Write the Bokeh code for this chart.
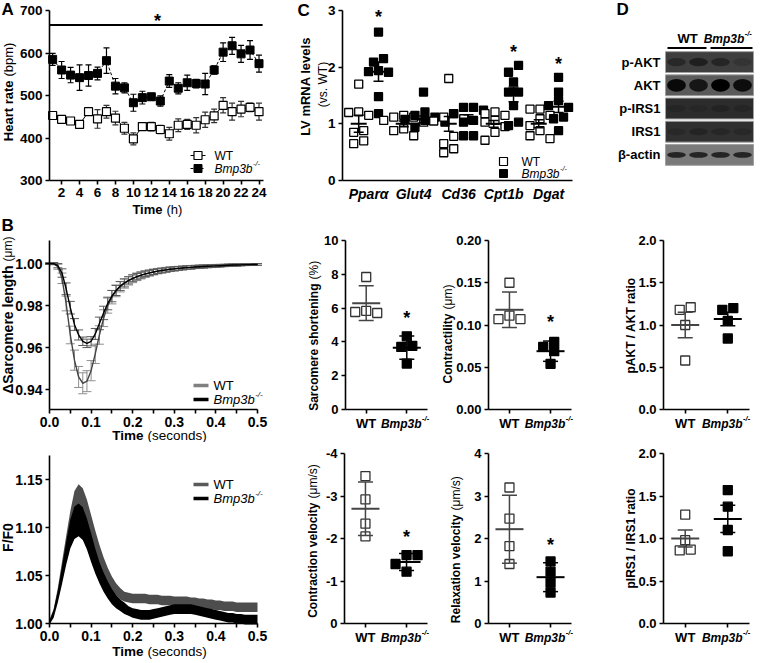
from math import pi
from bokeh.plotting import figure
from bokeh.models import (Label, Range1d, FixedTicker, PrintfTickFormatter,
                          CustomJSTickFormatter, Whisker, TeeHead, ColumnDataSource)
from bokeh.layouts import row, column
from bokeh.embed import file_html
from bokeh.resources import INLINE

FONT = "Liberation Sans"

# ---------------- Panel A: heart rate over 24 h ----------------
HOURS = [1, 2, 3, 4, 5, 6, 7, 8, 9, 10, 11, 12, 13, 14, 15, 16, 17, 18, 19, 20, 21, 22, 23, 24]
HR_WT = [453, 444, 440, 432, 462, 445, 462, 447, 423, 398, 427, 427,
         420, 410, 430, 432, 430, 443, 452, 477, 462, 468, 472, 462]
HR_WT_SEM = [8, 5, 5, 6, 8, 22, 15, 16, 14, 14, 5, 10, 10, 15, 15, 12, 18, 18, 16, 18, 20, 18, 10, 20]
HR_KO = [585, 560, 548, 542, 547, 552, 582, 522, 518, 483, 495, 497,
         487, 534, 517, 530, 528, 527, 560, 602, 617, 598, 607, 575]
HR_KO_SEM = [14, 20, 18, 30, 25, 15, 30, 18, 12, 20, 15, 8, 12, 15, 13, 18, 10, 25, 10, 22, 20, 20, 22, 20]
HOUR_TICKS = [2, 4, 6, 8, 10, 12, 14, 16, 18, 20, 22, 24]
HR_TICKS = [300, 400, 500, 600, 700]
SIG_A_SPAN = [0.7, 24.4]
SIG_A_LEVEL = 666
SIG_A_STAR_HOUR = 12.7

# ---------------- Panel B: sarcomere length and calcium transients ----------------
T_SEC = [0.00, 0.01, 0.02, 0.03, 0.04, 0.05, 0.06, 0.07, 0.08, 0.09,
         0.10, 0.11, 0.12, 0.13, 0.14, 0.15, 0.16, 0.17, 0.18, 0.19,
         0.20, 0.21, 0.22, 0.23, 0.24, 0.25, 0.26, 0.27, 0.28, 0.29,
         0.30, 0.31, 0.32, 0.33, 0.34, 0.35, 0.36, 0.37, 0.38, 0.39,
         0.40, 0.41, 0.42, 0.43, 0.44, 0.45, 0.46, 0.47, 0.48, 0.49, 0.50]
SARC_WT = [1.0000, 1.0000, 0.9985, 0.9930, 0.9810, 0.9660, 0.9540, 0.9460, 0.9430, 0.9440,
           0.9490, 0.9570, 0.9660, 0.9740, 0.9800, 0.9840, 0.9870, 0.9890, 0.9905, 0.9918,
           0.9928, 0.9937, 0.9944, 0.9950, 0.9955, 0.9960, 0.9964, 0.9967, 0.9970, 0.9973,
           0.9975, 0.9977, 0.9979, 0.9981, 0.9982, 0.9984, 0.9985, 0.9986, 0.9987, 0.9988,
           0.9989, 0.9990, 0.9991, 0.9992, 0.9993, 0.9993, 0.9994, 0.9995, 0.9995, 0.9996, 0.9996]
SARC_WT_SEM = [0.0003, 0.0005, 0.0012, 0.0025, 0.0035, 0.0042, 0.0048, 0.0050, 0.0050, 0.0050,
               0.0048, 0.0046, 0.0044, 0.0040, 0.0036, 0.0032, 0.0028, 0.0025, 0.0022, 0.0020,
               0.0019, 0.0018, 0.0017, 0.0016, 0.0015, 0.0014, 0.0013, 0.0012, 0.0012, 0.0011,
               0.0011, 0.0010, 0.0010, 0.0009, 0.0009, 0.0008, 0.0008, 0.0008, 0.0007, 0.0007,
               0.0007, 0.0006, 0.0006, 0.0006, 0.0005, 0.0005, 0.0005, 0.0005, 0.0004, 0.0004, 0.0004]
SARC_KO = [1.0000, 1.0000, 0.9990, 0.9955, 0.9880, 0.9790, 0.9710, 0.9660, 0.9630, 0.9620,
           0.9630, 0.9665, 0.9715, 0.9765, 0.9810, 0.9845, 0.9872, 0.9893, 0.9908, 0.9920,
           0.9930, 0.9938, 0.9945, 0.9951, 0.9956, 0.9960, 0.9964, 0.9967, 0.9970, 0.9973,
           0.9975, 0.9977, 0.9979, 0.9981, 0.9982, 0.9984, 0.9985, 0.9986, 0.9987, 0.9988,
           0.9989, 0.9990, 0.9991, 0.9992, 0.9993, 0.9993, 0.9994, 0.9995, 0.9995, 0.9996, 0.9996]
SARC_KO_SEM = [0.0003, 0.0005, 0.0010, 0.0020, 0.0028, 0.0030, 0.0028, 0.0024, 0.0020, 0.0020,
               0.0022, 0.0026, 0.0030, 0.0032, 0.0030, 0.0027, 0.0024, 0.0021, 0.0019, 0.0017,
               0.0016, 0.0015, 0.0014, 0.0013, 0.0012, 0.0012, 0.0011, 0.0011, 0.0010, 0.0010,
               0.0009, 0.0009, 0.0008, 0.0008, 0.0008, 0.0007, 0.0007, 0.0007, 0.0006, 0.0006,
               0.0006, 0.0006, 0.0005, 0.0005, 0.0005, 0.0005, 0.0004, 0.0004, 0.0004, 0.0004, 0.0004]
FF_WT = [1.002, 1.012, 1.032, 1.057, 1.082, 1.106, 1.125, 1.132, 1.128, 1.116,
         1.101, 1.086, 1.072, 1.060, 1.050, 1.042, 1.036, 1.031, 1.028, 1.027,
         1.026, 1.026, 1.026, 1.026, 1.025, 1.025, 1.025, 1.024, 1.024, 1.024,
         1.023, 1.023, 1.023, 1.023, 1.022, 1.022, 1.021, 1.021, 1.020, 1.020,
         1.019, 1.019, 1.018, 1.018, 1.018, 1.017, 1.017, 1.017, 1.017, 1.017, 1.017]
FF_WT_SEM = [0.002, 0.003, 0.005, 0.007, 0.009, 0.011, 0.013, 0.013, 0.013, 0.013,
             0.012, 0.011, 0.010, 0.009, 0.008, 0.007, 0.006, 0.006, 0.005, 0.005,
             0.005, 0.005, 0.005, 0.005, 0.005, 0.005, 0.005, 0.005, 0.005, 0.005,
             0.005, 0.005, 0.005, 0.005, 0.005, 0.005, 0.005, 0.005, 0.005, 0.005,
             0.005, 0.005, 0.005, 0.005, 0.005, 0.005, 0.005, 0.005, 0.005, 0.005, 0.005]
FF_KO = [1.001, 1.010, 1.028, 1.050, 1.073, 1.093, 1.105, 1.108, 1.104, 1.093,
         1.079, 1.065, 1.053, 1.043, 1.035, 1.028, 1.023, 1.019, 1.016, 1.013,
         1.011, 1.010, 1.009, 1.009, 1.009, 1.010, 1.011, 1.012, 1.013, 1.014,
         1.015, 1.015, 1.015, 1.015, 1.015, 1.014, 1.013, 1.012, 1.011, 1.010,
         1.009, 1.008, 1.007, 1.006, 1.006, 1.005, 1.005, 1.004, 1.004, 1.004, 1.004]
FF_KO_SEM = [0.002, 0.004, 0.006, 0.009, 0.012, 0.015, 0.017, 0.017, 0.017, 0.016,
             0.015, 0.013, 0.011, 0.010, 0.009, 0.008, 0.007, 0.006, 0.006, 0.005,
             0.005, 0.005, 0.005, 0.005, 0.005, 0.005, 0.005, 0.005, 0.005, 0.005,
             0.005, 0.005, 0.005, 0.005, 0.005, 0.005, 0.005, 0.005, 0.005, 0.005,
             0.005, 0.005, 0.005, 0.005, 0.005, 0.005, 0.005, 0.005, 0.005, 0.005, 0.005]
SEC_TICKS = [0.0, 0.1, 0.2, 0.3, 0.4, 0.5]
SEC_MINOR = [0.05, 0.15, 0.25, 0.35, 0.45]
SARC_TICKS = [0.94, 0.96, 0.98, 1.00]
FF_TICKS = [1.00, 1.05, 1.10, 1.15]

# ---------------- Panel C: LV mRNA levels ----------------
GENES = ["Pparα", "Glut4", "Cd36", "Cpt1b", "Dgat"]
PPARA_WT = [1.70, 1.21, 1.20, 1.15, 0.88, 0.85, 0.70, 0.65]
PPARA_KO = [2.62, 2.15, 2.09, 1.94, 1.92, 1.91, 1.48, 1.18]
GLUT4_WT = [1.15, 1.12, 1.12, 1.06, 1.03, 0.91, 0.88, 0.79]
GLUT4_KO = [1.56, 1.21, 1.15, 1.12, 1.08, 1.06, 1.03, 0.94]
CD36_WT = [1.80, 1.18, 1.12, 1.09, 1.05, 0.78, 0.65, 0.56, 0.49]
CD36_KO = [1.29, 1.29, 1.24, 1.18, 1.06, 1.03, 0.79, 0.79]
CPT1B_WT = [1.21, 1.18, 1.15, 1.06, 1.03, 0.95, 0.85, 0.71]
CPT1B_KO = [2.03, 1.91, 1.74, 1.56, 1.56, 1.32, 1.03, 0.97]
DGAT_WT = [1.26, 1.26, 1.15, 1.09, 0.97, 0.88, 0.79, 0.74]
DGAT_KO = [1.82, 1.56, 1.41, 1.32, 1.29, 1.12, 1.09, 0.88]
C_WT_MEAN = [1.00, 1.00, 1.00, 1.00, 1.00]
C_WT_SEM = [0.15, 0.05, 0.13, 0.06, 0.07]
C_KO_MEAN = [1.92, 1.08, 1.08, 1.52, 1.30]
C_KO_SEM = [0.17, 0.06, 0.08, 0.13, 0.10]
C_STAR_GENES = [1, 4, 5]
C_TICKS = [0, 1, 2, 3]

# ---------------- Cardiomyocyte mechanics (mean +/- SD) ----------------
SS_WT = [7.84, 5.71, 5.83, 5.77]
SS_KO = [4.33, 3.76, 3.70, 2.72]
SS_STAT = [(6.29, 1.03), (3.66, 0.69)]
CT_WT = [0.150, 0.107, 0.111, 0.107]
CT_KO = [0.080, 0.074, 0.069, 0.054]
CT_STAT = [(0.118, 0.021), (0.069, 0.012)]
CV_WT = [-3.47, -2.92, -2.35, -2.05]
CV_KO = [-1.61, -1.61, -1.40, -1.22]
CV_STAT = [(-2.70, 0.63), (-1.45, 0.20)]
RV_WT = [3.20, 2.47, 1.82, 1.40]
RV_KO = [1.46, 1.22, 0.96, 0.73]
RV_STAT = [(2.22, 0.80), (1.09, 0.34)]

# ---------------- Panel D: western blot and ratios ----------------
BLOT_ROWS = ["p-AKT", "AKT", "p-IRS1", "IRS1", "β-actin"]
BLOT_BG = ["#3e3e3e", "#5a5a5a", "#2c2c2c", "#303030", "#7a7a7a"]
BLOT_BANDS = [[0.35, 0.50, 0.40, 0.15],
              [0.90, 0.75, 1.00, 0.85],
              [0.15, 0.10, 0.20, 0.15],
              [0.15, 0.25, 0.20, 0.15],
              [0.70, 0.70, 0.70, 0.70]]
BLOT_BAND_H = [0.35, 0.55, 0.30, 0.30, 0.25]
LANES = [0.5, 1.5, 2.5, 3.5]
PA_WT = [1.21, 1.18, 1.00, 0.58]
PA_KO = [1.20, 1.18, 1.05, 0.84]
PA_STAT = [(1.00, 0.15), (1.07, 0.08)]
PI_WT = [1.28, 0.98, 0.87, 0.86]
PI_KO = [1.57, 1.375, 1.10, 0.85]
PI_STAT = [(1.00, 0.10), (1.23, 0.16)]
RATIO_TICKS = [0.0, 0.5, 1.0, 1.5, 2.0]


# =================================================================
class Panel:
    """A figure whose frame fills its whole canvas; 'box' is the page rectangle
    that the data ranges xr, yr occupy (axes are drawn at its edges)."""

    def __init__(self, canvas, box, xr, yr):
        self.box = box
        self.xr = xr
        self.yr = yr
        cx0, cy0, cx1, cy1 = canvas
        p = figure(width=cx1 - cx0, height=cy1 - cy0,
                   x_range=Range1d(self.X(cx0), self.X(cx1)),
                   y_range=Range1d(self.Y(cy1), self.Y(cy0)),
                   output_backend="svg", toolbar_location=None,
                   min_border_left=0, min_border_right=0,
                   min_border_top=0, min_border_bottom=0)
        p.outline_line_color = None
        p.xgrid.visible = False
        p.ygrid.visible = False
        p.background_fill_color = "white"
        p.border_fill_color = "white"
        self.fig = p

    def X(self, xp):
        fx0, _, fx1, _ = self.box
        return self.xr[0] + (xp - fx0) / (fx1 - fx0) * (self.xr[1] - self.xr[0])

    def Y(self, yp):
        _, fy0, _, fy1 = self.box
        return self.yr[0] + (fy1 - yp) / (fy1 - fy0) * (self.yr[1] - self.yr[0])

    def PX(self, x):
        fx0, _, fx1, _ = self.box
        return fx0 + (x - self.xr[0]) / (self.xr[1] - self.xr[0]) * (fx1 - fx0)

    def PY(self, y):
        _, fy0, _, fy1 = self.box
        return fy1 - (y - self.yr[0]) / (self.yr[1] - self.yr[0]) * (fy1 - fy0)

    def ppx(self):
        return (self.box[2] - self.box[0]) / (self.xr[1] - self.xr[0])

    def ppy(self):
        return abs((self.box[3] - self.box[1]) / (self.yr[1] - self.yr[0]))

    def text(self, s, xp, yp, size, style="bold", align="center", baseline="middle",
             angle=0.0, color="black"):
        self.fig.add_layout(Label(x=self.X(xp), y=self.Y(yp), text=s, text_font=FONT,
                                  text_font_size=f"{size}px", text_font_style=style,
                                  text_align=align, text_baseline=baseline,
                                  angle=angle, text_color=color))


def style_axes(P, xticks, yticks, xfmt, yfmt, fs, xminor=(), xlabels=True):
    p = P.fig
    for ax in list(p.xaxis) + list(p.yaxis):
        ax.axis_line_width = 1.6
        ax.axis_line_color = "black"
        ax.major_tick_line_width = 1.6
        ax.major_tick_line_color = "black"
        ax.major_tick_in = 0
        ax.major_tick_out = 4
        ax.minor_tick_line_width = 1.6
        ax.minor_tick_line_color = "black"
        ax.minor_tick_in = 0
        ax.minor_tick_out = 4
        ax.major_label_text_font = FONT
        ax.major_label_text_font_style = "bold"
        ax.major_label_text_font_size = f"{fs}px"
        ax.major_label_text_color = "black"
        ax.major_label_standoff = 3
    xa = p.xaxis[0]
    ya = p.yaxis[0]
    xa.fixed_location = P.yr[0]
    xa.bounds = (min(P.xr), max(P.xr))
    ya.fixed_location = P.xr[0]
    ya.bounds = (min(P.yr), max(P.yr))
    xa.ticker = FixedTicker(ticks=list(xticks), minor_ticks=list(xminor))
    ya.ticker = FixedTicker(ticks=list(yticks), minor_ticks=[])
    if xlabels:
        xa.formatter = PrintfTickFormatter(format=xfmt)
    else:
        xa.formatter = CustomJSTickFormatter(code="return ''")
    ya.formatter = PrintfTickFormatter(format=yfmt)


BMP_BOLD_EM = 3.389
BMP_REG_EM = 3.168


def bmp(P, xp, yp, size, bold=True, align="center"):
    style = "bold italic" if bold else "italic"
    w = (BMP_BOLD_EM if bold else BMP_REG_EM) * size
    sup = size * 0.62
    wsup = 0.944 * sup
    x0 = xp - (w + wsup) / 2 if align == "center" else xp
    P.text("Bmp3b", x0, yp, size, style, align="left")
    P.text("-/-", x0 + w + 0.5, yp - size * 0.38, sup, style, align="left")


def star(P, xd, yc_page, size=18):
    P.text("*", P.PX(xd), yc_page + 1, size, "bold", baseline="alphabetic")


def swarm(vals, ppu, size):
    n = len(vals)
    order = sorted(range(n), key=lambda i: -vals[i])
    cands = sorted([k * 0.5 for k in range(-8, 9)], key=lambda c: (abs(c), c))
    offs = [0.0] * n
    placed = []
    for i in order:
        for c in cands:
            if all(abs(c - offs[j]) >= 0.999 or abs(vals[i] - vals[j]) * ppu >= size for j in placed):
                offs[i] = c
                break
        placed.append(i)
    parent = list(range(n))

    def find(a):
        while parent[a] != a:
            a = parent[a]
        return a
    for i in range(n):
        for j in range(i + 1, n):
            if abs(vals[i] - vals[j]) * ppu < size:
                parent[find(i)] = find(j)
    groups = {}
    for i in range(n):
        groups.setdefault(find(i), []).append(i)
    for g in groups.values():
        m = sum(offs[i] for i in g) / len(g)
        for i in g:
            offs[i] -= m
    return offs


def dot_group(P, xc, vals, mean, err, filled, size, step_px, mean_half_px, cap_half_px,
              line_col, mk_col):
    offs = swarm(vals, P.ppy(), size)
    xs = [xc + o * step_px / P.ppx() for o in offs]
    P.fig.scatter(xs, vals, marker="square", size=size,
                  fill_color=mk_col if filled else "white", line_color=mk_col, line_width=1.3)
    mh = mean_half_px / P.ppx()
    ch = cap_half_px / P.ppx()
    P.fig.segment(x0=[xc - mh], y0=[mean], x1=[xc + mh], y1=[mean],
                  line_color=line_col, line_width=2)
    P.fig.segment(x0=[xc, xc - ch, xc - ch], y0=[mean - err, mean + err, mean - err],
                  x1=[xc, xc + ch, xc + ch], y1=[mean + err, mean + err, mean - err],
                  line_color=line_col, line_width=1.5)


def whiskers(P, xs, means, sems, color, cap, lw=1.0):
    src = ColumnDataSource(dict(x=xs, lo=[m - s for m, s in zip(means, sems)],
                                hi=[m + s for m, s in zip(means, sems)]))
    P.fig.add_layout(Whisker(source=src, base="x", lower="lo", upper="hi", dimension="height",
                             line_color=color, line_width=lw,
                             lower_head=TeeHead(size=cap, line_color=color, line_width=lw),
                             upper_head=TeeHead(size=cap, line_color=color, line_width=lw)))


# ---------------- Panel A ----------------
A = Panel((0, 0, 275, 217), (49, 10, 263, 180), (0.65, 24.5), (300, 700))
style_axes(A, HOUR_TICKS, HR_TICKS, "%d", "%d", 13.5)
whiskers(A, HOURS, HR_WT, HR_WT_SEM, "#333333", 6, 1.2)
whiskers(A, HOURS, HR_KO, HR_KO_SEM, "black", 6, 1.2)
A.fig.line(HOURS, HR_WT, line_color="black", line_width=1)
A.fig.line(HOURS, HR_KO, line_color="black", line_width=1, line_dash="3 2")
A.fig.scatter(HOURS, HR_WT, marker="square", size=8, fill_color="white", line_color="black", line_width=1.2)
A.fig.scatter(HOURS, HR_KO, marker="square", size=8, fill_color="black", line_color="black")
A.fig.line(SIG_A_SPAN, [SIG_A_LEVEL, SIG_A_LEVEL], line_color="black", line_width=2)
star(A, SIG_A_STAR_HOUR, 19)
A.text("A", 1, 9, 17, "bold", align="left")
A.text("Time", 162, 209, 13, "bold", align="right")
A.text("(h)", 166, 209, 13, "normal", align="left")
A.text("Heart rate", 8, 80, 13, "bold", align="right", angle=pi / 2)
A.text("(bpm)", 8, 76, 13, "normal", align="left", angle=pi / 2)
# legend
A.fig.line([A.X(190), A.X(205)], [A.Y(155), A.Y(155)], line_color="black", line_width=1)
A.fig.line([A.X(190), A.X(205)], [A.Y(168), A.Y(168)], line_color="black", line_width=1, line_dash="3 2")
A.fig.scatter([A.X(197.5)], [A.Y(155)], marker="square", size=8, fill_color="white", line_color="black", line_width=1.2)
A.fig.scatter([A.X(197.5)], [A.Y(168)], marker="square", size=8, fill_color="black", line_color="black")
A.text("WT", 214, 155, 12, "normal", align="left")
bmp(A, 214, 168, 12, bold=False, align="left")

# ---------------- Panel B top ----------------
Bt = Panel((0, 217, 275, 442), (49, 240, 257, 409), (0, 0.5), (0.9305, 1.011))
style_axes(Bt, SEC_TICKS, SARC_TICKS, "%.1f", "%.2f", 14, xminor=SEC_MINOR)
whiskers(Bt, T_SEC, SARC_WT, SARC_WT_SEM, "#8f8f8f", 9, 1.0)
whiskers(Bt, T_SEC, SARC_KO, SARC_KO_SEM, "#5a5a5a", 9, 1.0)
Bt.fig.line(T_SEC, SARC_WT, line_color="#444444", line_width=1.4)
Bt.fig.line(T_SEC, SARC_KO, line_color="black", line_width=1.4)
Bt.text("B", 1, 225, 17, "bold", align="left")
Bt.text("Time", 143, 435, 13.5, "bold", align="right")
Bt.text("(seconds)", 147, 435, 13.5, "normal", align="left")
Bt.text("ΔSarcomere length", 7, 265, 14, "bold", align="right", angle=pi / 2)
Bt.text("(μm)", 7, 261, 12, "normal", align="left", angle=pi / 2)
Bt.fig.line([Bt.X(193), Bt.X(208)], [Bt.Y(385), Bt.Y(385)], line_color="#808080", line_width=3.5)
Bt.fig.line([Bt.X(193), Bt.X(208)], [Bt.Y(399), Bt.Y(399)], line_color="black", line_width=3.5)
Bt.text("WT", 213, 385, 13, "normal", align="left")
bmp(Bt, 213, 399, 13, bold=False, align="left")

# ---------------- Panel B bottom ----------------
Bb = Panel((0, 442, 275, 663), (49, 455, 257, 623), (0, 0.5), (1.0, 1.175))
style_axes(Bb, SEC_TICKS, FF_TICKS, "%.1f", "%.2f", 14, xminor=SEC_MINOR)
Bb.fig.varea(x=T_SEC, y1=[m - s for m, s in zip(FF_WT, FF_WT_SEM)],
             y2=[m + s for m, s in zip(FF_WT, FF_WT_SEM)], fill_color="#4d4d4d")
Bb.fig.varea(x=T_SEC, y1=[m - s for m, s in zip(FF_KO, FF_KO_SEM)],
             y2=[m + s for m, s in zip(FF_KO, FF_KO_SEM)], fill_color="black")
Bb.text("Time", 143, 651, 13.5, "bold", align="right")
Bb.text("(seconds)", 147, 651, 13.5, "normal", align="left")
Bb.text("F/F0", 7, 537, 14, "bold", angle=pi / 2)
Bb.fig.line([Bb.X(193), Bb.X(208)], [Bb.Y(484), Bb.Y(484)], line_color="#5a5a5a", line_width=3.5)
Bb.fig.line([Bb.X(193), Bb.X(208)], [Bb.Y(498), Bb.Y(498)], line_color="black", line_width=3.5)
Bb.text("WT", 213, 484, 13, "normal", align="left")
bmp(Bb, 213, 498, 13, bold=False, align="left")

# ---------------- Panel C ----------------
C = Panel((275, 0, 580, 217), (342, 10, 572, 180), (0.42, 5.53), (0, 3))
style_axes(C, [], C_TICKS, "%d", "%d", 13.5, xlabels=False)
C_WT = [PPARA_WT, GLUT4_WT, CD36_WT, CPT1B_WT, DGAT_WT]
C_KO = [PPARA_KO, GLUT4_KO, CD36_KO, CPT1B_KO, DGAT_KO]
for i in range(len(GENES)):
    xg = i + 1
    dot_group(C, xg - 0.22, C_WT[i], C_WT_MEAN[i], C_WT_SEM[i], False, 8, 10, 8, 5, "black", "black")
    dot_group(C, xg + 0.22, C_KO[i], C_KO_MEAN[i], C_KO_SEM[i], True, 8, 10, 8, 5, "black", "black")
    C.text(GENES[i], C.PX(xg), 193, 14, "bold italic")
for g, yc in zip(C_STAR_GENES, [15, 50, 62]):
    star(C, g + 0.22, yc)
C.text("C", 297, 10, 17, "bold", align="left")
C.text("LV mRNA levels", 305, 86, 13, "bold", angle=pi / 2)
C.text("(vs. WT)", 322, 84, 12, "normal", angle=pi / 2)
C.fig.scatter([C.X(503)], [C.Y(161)], marker="square", size=8, fill_color="white", line_color="black", line_width=1.2)
C.fig.scatter([C.X(503)], [C.Y(173)], marker="square", size=8, fill_color="black", line_color="black")
C.text("WT", 521, 161, 12, "normal", align="left")
bmp(C, 521, 173, 12, bold=False, align="left")

# ---------------- Panel D blot ----------------
D = Panel((580, 0, 761, 217), (665, 28, 753, 166), (0, 4), (0, 5.948))
D.fig.axis.visible = False
for i, name in enumerate(BLOT_ROWS):
    yc = 4.5 - i
    D.fig.rect(x=[2], y=[yc], width=[4], height=[0.9], fill_color=BLOT_BG[i],
               line_color="#a0a0a0", line_width=1)
    D.fig.ellipse(x=LANES, y=[yc] * 4, width=[0.85] * 4, height=[BLOT_BAND_H[i]] * 4,
                  fill_color="black", fill_alpha=BLOT_BANDS[i], line_color=None)
    D.text(name, 660, D.PY(yc), 13, "bold", align="right")
D.fig.segment(x0=[D.X(667), D.X(710)], y0=[D.Y(47.5)] * 2, x1=[D.X(706), D.X(752)],
              y1=[D.Y(47.5)] * 2, line_color="black", line_width=2)
D.text("WT", 687, 38, 13, "bold")
bmp(D, 727, 38, 12, bold=True, align="center")
D.text("D", 616, 9, 17, "bold", align="left")


# ---------------- small dot panels ----------------
def small_panel(canvas, box, yr, yticks, yfmt, wt, ko, stats, title, unit, title_x, title_y,
                star_y=None):
    P = Panel(canvas, box, (0.49, 2.51), yr)
    style_axes(P, [1, 2], yticks, "%d", yfmt, 13, xlabels=False)
    dot_group(P, 1, wt, stats[0][0], stats[0][1], False, 9, 11, 14, 7.5, "#444444", "#333333")
    dot_group(P, 2, ko, stats[1][0], stats[1][1], True, 9, 11, 14, 7.5, "black", "black")
    ylab = box[3] + 14
    P.text("WT", P.PX(1), ylab, 13, "bold")
    bmp(P, P.PX(2) - 2, ylab, 12, bold=True, align="center")
    if unit:
        P.text(title, title_x, title_y + 2, 12, "bold", align="right", angle=pi / 2)
        P.text(unit, title_x, title_y - 2, 12, "normal", align="left", angle=pi / 2)
    else:
        P.text(title, title_x, title_y, 12, "bold", angle=pi / 2)
    if star_y is not None:
        star(P, 2, star_y)
    return P


SS = small_panel((275, 217, 430, 442), (345, 240, 427, 409), (0, 10), [0, 2, 4, 6, 8, 10], "%d",
                 SS_WT, SS_KO, SS_STAT, "Sarcomere shortening", "(%)", 313, 281, 316)
CT = small_panel((430, 217, 580, 442), (488, 240, 571, 409), (0, 0.2), [0, 0.05, 0.10, 0.15, 0.20], "%.2f",
                 CT_WT, CT_KO, CT_STAT, "Contractility", "(μm)", 447, 311, 320)
CV = small_panel((275, 442, 430, 663), (344, 453, 427, 623), (0, -4), [0, -1, -2, -3, -4], "%d",
                 CV_WT, CV_KO, CV_STAT, "Contraction velocity", "(μm/s)", 312, 500, 535)
RV = small_panel((430, 442, 580, 663), (488, 453, 571, 623), (0, 4), [0, 1, 2, 3, 4], "%d",
                 RV_WT, RV_KO, RV_STAT, "Relaxation velocity", "(μm/s)", 455, 512, 543)
PA = small_panel((580, 217, 761, 442), (663, 240, 749, 409), (0, 2), RATIO_TICKS, "%.1f",
                 PA_WT, PA_KO, PA_STAT, "pAKT / AKT ratio", None, 630, 325)
PI = small_panel((580, 442, 761, 663), (663, 453, 749, 623), (0, 2), RATIO_TICKS, "%.1f",
                 PI_WT, PI_KO, PI_STAT, "pIRS1 / IRS1 ratio", None, 630, 538)

layout = column(row(A.fig, C.fig, D.fig),
                row(Bt.fig, SS.fig, CT.fig, PA.fig),
                row(Bb.fig, CV.fig, RV.fig, PI.fig))

with open("out.html", "w", encoding="utf-8") as f:
    f.write(file_html(layout, INLINE))
